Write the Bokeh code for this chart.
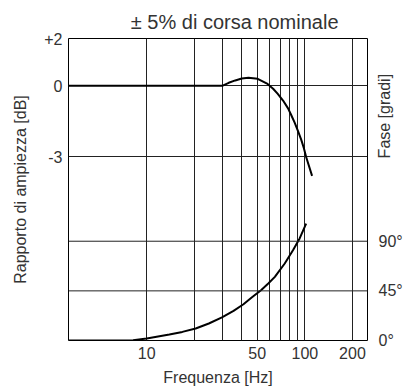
import math
from bokeh.plotting import figure
from bokeh.models import (LinearAxis, Range1d, FixedTicker, Span,
                          BasicTickFormatter)
from bokeh.embed import file_html
from bokeh.resources import INLINE

# Gridline frequencies and labelled frequencies (Hz)
freq_grid = [10, 20, 30, 40, 50, 60, 70, 80, 90, 100, 200, 300]
freq_labels = [10, 50, 100, 200]

# Amplitude ratio ticks (dB) and phase ticks (degrees)
db_ticks = [2, 0, -3]
db_grid = [0, -3]
phase_ticks = [0, 45, 90]

# Amplitude ratio curve
amp_freq = [3.2, 30, 33, 36.3, 39.9, 44.0, 50.3, 58.1, 63.0, 67.2, 72.8,
            78.3, 82.1, 86.2, 90.4, 94.8, 98.6, 101.9, 111.1]
amp_db = [0, 0, 0.13, 0.23, 0.31, 0.34, 0.30, 0.08, -0.12, -0.33, -0.62,
          -0.95, -1.24, -1.55, -1.90, -2.27, -2.63, -3.0, -3.8]

# Phase curve
phase_freq = [3.2, 6.7, 8.2, 10, 13.9, 16.8, 20.4, 24.7, 29.9, 35.4, 40.9,
              46.1, 52.8, 58.7, 64.6, 74.6, 84.1, 92.7, 101.9]
phase_deg = [0, 0, 0.3, 1.8, 5.4, 7.8, 10.9, 15.4, 20.9, 26.8, 32.9,
             39.0, 45.6, 51.7, 57.7, 69.8, 81.9, 92.5, 106]

TEXT = "#333333"
FONT = "Liberation Sans"

p = figure(width=404, height=392, x_axis_type="log",
           x_range=Range1d(3.2, 249), y_range=Range1d(-10.75, 2),
           output_backend="svg", toolbar_location=None,
           min_border_left=68, min_border_right=34, min_border_top=38,
           min_border_bottom=52, title="± 5% di corsa nominale")

p.extra_y_ranges = {"phase": Range1d(0, 273.8)}

p.title.align = "right"
p.title.text_font = FONT
p.title.text_font_style = "normal"
p.title.text_font_size = "20px"
p.title.text_color = TEXT
p.title.offset = 29
p.title.standoff = 12

p.outline_line_color = "black"
p.outline_line_width = 1
p.background_fill_color = "white"
p.border_fill_color = "white"

# Grid
p.xgrid.ticker = FixedTicker(ticks=freq_grid)
p.xgrid.minor_grid_line_color = None
p.xgrid.grid_line_color = "#222222"
p.xgrid.grid_line_alpha = 1
p.xgrid.grid_line_width = 1
p.ygrid.ticker = FixedTicker(ticks=db_grid)
p.ygrid.grid_line_color = "#222222"
p.ygrid.grid_line_width = 1

for deg in [45, 90]:
    p.add_layout(Span(location=deg, dimension="width", y_range_name="phase",
                      line_color="#222222", line_width=1))

# Bottom axis
xa = p.xaxis[0]
xa.ticker = FixedTicker(ticks=freq_labels)
xa.formatter = BasicTickFormatter()
xa.axis_label = "Frequenza [Hz]"

# Left axis
ya = p.yaxis[0]
ya.ticker = FixedTicker(ticks=db_ticks)
ya.major_label_overrides = {2: "+2", 0: "0", -3: "-3"}
ya.axis_label = "Rapporto di ampiezza [dB]"

# Right axis (phase). Its title shares the tick-label column and sits above
# the ticks: leading no-break spaces push the visible words up the axis.
ra = LinearAxis(y_range_name="phase", ticker=FixedTicker(ticks=phase_ticks),
                major_label_overrides={0: "0°", 45: "45°", 90: "90°"},
                axis_label="\u00a0" * 7 + "Fase [gradi]")
p.add_layout(ra, "right")

for ax in [xa, ya, ra]:
    ax.axis_line_color = None
    ax.major_tick_line_color = None
    ax.minor_tick_line_color = None
    ax.major_tick_in = 0
    ax.major_tick_out = 0
    ax.major_label_text_font = FONT
    ax.major_label_text_font_size = "16px"
    ax.major_label_text_color = TEXT
    ax.axis_label_text_font = FONT
    ax.axis_label_text_font_size = "16px"
    ax.axis_label_text_font_style = "normal"
    ax.axis_label_text_color = TEXT

xa.major_label_standoff = 6
xa.axis_label_standoff = 7
ya.major_label_standoff = 6
ya.axis_label_standoff = 12
ra.major_label_standoff = 11
ra.axis_label_standoff = -21
ra.axis_label_orientation = math.pi / 2
ra.axis_label_align = "center"

p.line(amp_freq, amp_db, line_color="black", line_width=2)
p.line(phase_freq, phase_deg, line_color="black", line_width=2,
       y_range_name="phase")

open("out.html", "w").write(file_html(p, INLINE))
